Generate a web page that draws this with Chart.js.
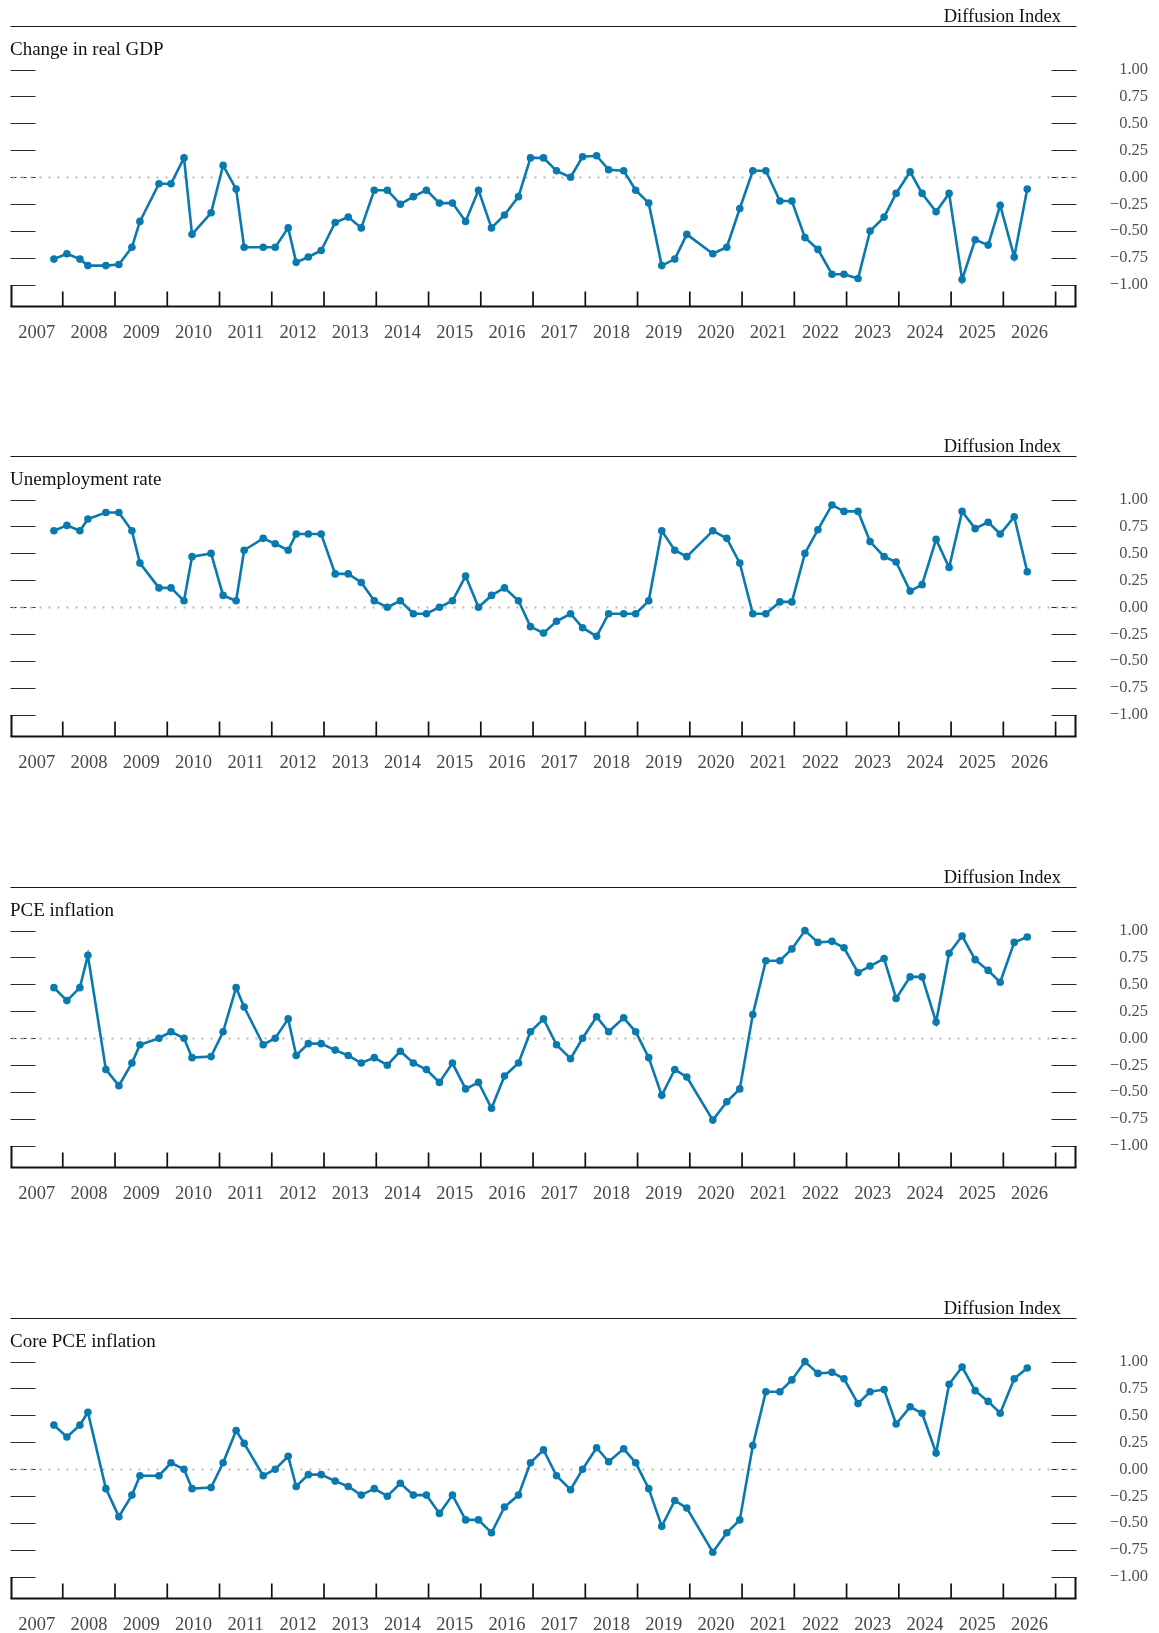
<!DOCTYPE html>
<html lang="en">
<head>
<meta charset="utf-8">
<title>Diffusion indexes</title>
<script src="https://cdn.jsdelivr.net/npm/chart.js@4.4.1/dist/chart.umd.min.js"></script>
<style>
  html, body { margin: 0; padding: 0; background: #fff; overflow: hidden; }
  body { width: 1159px; height: 1633px; position: relative; font-family: "Liberation Serif", "Times New Roman", serif; }
  .panel { position: absolute; left: 0; width: 1159px; height: 431px; }
  .panel canvas { position: absolute; left: 0; top: 0; }
  .unit { position: absolute; right: 98px; top: 6.5px; font-size: 18.5px; line-height: 18.5px; color: #111; white-space: nowrap; }
  .title { position: absolute; left: 10px; top: 38.5px; font-size: 19px; line-height: 19px; color: #111; white-space: nowrap; }
</style>
</head>
<body>

<div class="panel" style="top:0px">
  <canvas id="gdpChart" width="1159" height="431"></canvas>
  <span class="unit">Diffusion Index</span>
  <span class="title">Change in real GDP</span>
</div>
<div class="panel" style="top:430px">
  <canvas id="unempChart" width="1159" height="431"></canvas>
  <span class="unit">Diffusion Index</span>
  <span class="title">Unemployment rate</span>
</div>
<div class="panel" style="top:861px">
  <canvas id="pceChart" width="1159" height="431"></canvas>
  <span class="unit">Diffusion Index</span>
  <span class="title">PCE inflation</span>
</div>
<div class="panel" style="top:1292px">
  <canvas id="corePceChart" width="1159" height="431"></canvas>
  <span class="unit">Diffusion Index</span>
  <span class="title">Core PCE inflation</span>
</div>

<script>
// ===============================================
// Data
// ===============================================
const releaseDates = [
    '2007-10-31',
    '2008-01-30', '2008-04-30', '2008-06-25', '2008-10-29',
    '2009-01-28', '2009-04-29', '2009-06-24', '2009-11-04',
    '2010-01-27', '2010-04-28', '2010-06-23', '2010-11-03',
    '2011-01-26', '2011-04-27', '2011-06-22', '2011-11-02',
    '2012-01-25', '2012-04-25', '2012-06-20', '2012-09-13', '2012-12-12',
    '2013-03-20', '2013-06-19', '2013-09-18', '2013-12-18',
    '2014-03-19', '2014-06-18', '2014-09-17', '2014-12-17',
    '2015-03-18', '2015-06-17', '2015-09-17', '2015-12-16',
    '2016-03-16', '2016-06-15', '2016-09-21', '2016-12-14',
    '2017-03-15', '2017-06-14', '2017-09-20', '2017-12-13',
    '2018-03-21', '2018-06-13', '2018-09-26', '2018-12-19',
    '2019-03-20', '2019-06-19', '2019-09-18', '2019-12-11',
    '2020-06-10', '2020-09-16', '2020-12-16',
    '2021-03-17', '2021-06-16', '2021-09-22', '2021-12-15',
    '2022-03-16', '2022-06-15', '2022-09-21', '2022-12-14',
    '2023-03-22', '2023-06-14', '2023-09-20', '2023-12-13',
    '2024-03-20', '2024-06-12', '2024-09-18', '2024-12-18',
    '2025-03-19', '2025-06-18', '2025-09-17', '2025-12-10',
    '2026-03-18', '2026-06-17'
];

const gdpValues = [
    -0.76, -0.71, -0.76, -0.82, -0.82, -0.81, -0.65, -0.41, -0.06, -0.06,
     0.18, -0.53, -0.33,  0.11, -0.11, -0.65, -0.65, -0.65, -0.47, -0.79,
    -0.74, -0.68, -0.42, -0.37, -0.47, -0.12, -0.12, -0.25, -0.18, -0.12,
    -0.24, -0.24, -0.41, -0.12, -0.47, -0.35, -0.18,  0.18,  0.18,  0.06,
     0.00,  0.19,  0.20,  0.07,  0.06, -0.12, -0.24, -0.82, -0.76, -0.53,
    -0.71, -0.65, -0.29,  0.06,  0.06, -0.22, -0.22, -0.56, -0.67, -0.90,
    -0.90, -0.94, -0.50, -0.37, -0.15,  0.05, -0.15, -0.32, -0.15, -0.95,
    -0.58, -0.63, -0.26, -0.74, -0.11
];

const unemploymentValues = [
     0.71,  0.76,  0.71,  0.82,  0.88,  0.88,  0.71,  0.41,  0.18,  0.18,
     0.06,  0.47,  0.50,  0.11,  0.06,  0.53,  0.64,  0.59,  0.53,  0.68,
     0.68,  0.68,  0.31,  0.31,  0.23,  0.06,  0.00,  0.06, -0.06, -0.06,
     0.00,  0.06,  0.29,  0.00,  0.11,  0.18,  0.06, -0.18, -0.24, -0.13,
    -0.06, -0.19, -0.27, -0.06, -0.06, -0.06,  0.06,  0.71,  0.53,  0.47,
     0.71,  0.64,  0.41, -0.06, -0.06,  0.05,  0.05,  0.50,  0.72,  0.95,
     0.89,  0.89,  0.61,  0.47,  0.42,  0.15,  0.21,  0.63,  0.37,  0.89,
     0.73,  0.79,  0.68,  0.84,  0.33
];

const pceValues = [
     0.47,  0.35,  0.47,  0.77, -0.29, -0.44, -0.23, -0.06,  0.00,  0.06,
     0.00, -0.18, -0.17,  0.06,  0.47,  0.29, -0.06,  0.00,  0.18, -0.16,
    -0.05, -0.05, -0.11, -0.16, -0.23, -0.18, -0.25, -0.12, -0.23, -0.29,
    -0.41, -0.23, -0.47, -0.41, -0.65, -0.35, -0.23,  0.06,  0.18, -0.06,
    -0.19,  0.00,  0.20,  0.06,  0.19,  0.06, -0.18, -0.53, -0.29, -0.36,
    -0.76, -0.59, -0.47,  0.22,  0.72,  0.72,  0.83,  1.00,  0.89,  0.90,
     0.84,  0.61,  0.67,  0.74,  0.37,  0.57,  0.57,  0.15,  0.79,  0.95,
     0.73,  0.63,  0.52,  0.89,  0.94
];

const corePceValues = [
     0.41,  0.30,  0.41,  0.53, -0.18, -0.44, -0.24, -0.06, -0.06,  0.06,
     0.00, -0.18, -0.17,  0.06,  0.36,  0.24, -0.06,  0.00,  0.12, -0.16,
    -0.05, -0.05, -0.11, -0.16, -0.24, -0.18, -0.25, -0.13, -0.24, -0.24,
    -0.41, -0.24, -0.47, -0.47, -0.59, -0.35, -0.24,  0.06,  0.18, -0.06,
    -0.19,  0.00,  0.20,  0.07,  0.19,  0.06, -0.18, -0.53, -0.29, -0.36,
    -0.77, -0.59, -0.47,  0.22,  0.72,  0.72,  0.83,  1.00,  0.89,  0.90,
     0.84,  0.61,  0.72,  0.74,  0.42,  0.58,  0.52,  0.15,  0.79,  0.95,
     0.73,  0.63,  0.52,  0.84,  0.94
];

const yearLabels = [2007, 2008, 2009, 2010, 2011, 2012, 2013, 2014, 2015, 2016,
                    2017, 2018, 2019, 2020, 2021, 2022, 2023, 2024, 2025, 2026];
const yTickValues = [-1, -0.75, -0.5, -0.25, 0, 0.25, 0.5, 0.75, 1];

document.addEventListener('DOMContentLoaded', () => {

    const lineColor = '#0a79ae';
    const serif = 'Liberation Serif';

    // date string -> fractional year (x position on the linear axis)
    function toYearFraction(s) {
        const [y, m, d] = s.split('-').map(Number);
        const start = Date.UTC(y, 0, 1);
        const end = Date.UTC(y + 1, 0, 1);
        return y + (Date.UTC(y, m - 1, d) - start) / (end - start);
    }
    const xValues = releaseDates.map(toYearFraction);

    // ===============================================
    // 1. Frame: top rule, tick stubs, dotted zero line, bottom axis
    // ===============================================
    const panelFrame = {
        id: 'panelFrame',
        beforeDatasetsDraw(chart) {
            const { ctx, chartArea: { left, right, top, bottom }, scales } = chart;
            const yScale = scales.y;
            const xScale = scales.x;
            ctx.save();

            // top rule
            ctx.strokeStyle = '#1a1a1a';
            ctx.lineWidth = 1.2;
            ctx.beginPath();
            ctx.moveTo(left, top);
            ctx.lineTo(right, top);
            ctx.stroke();

            // short tick stubs on both sides
            ctx.strokeStyle = '#2a2a2a';
            ctx.lineWidth = 1.1;
            yTickValues.forEach(v => {
                const py = Math.round(yScale.getPixelForValue(v)) + 0.5;
                ctx.setLineDash(v === 0 ? [6, 4] : []);
                ctx.beginPath();
                ctx.moveTo(left, py);
                ctx.lineTo(left + 25, py);
                ctx.moveTo(right - 25, py);
                ctx.lineTo(right, py);
                ctx.stroke();
            });

            // dotted zero line
            const zero = Math.round(yScale.getPixelForValue(0)) + 0.5;
            ctx.setLineDash([2, 7]);
            ctx.strokeStyle = '#b8b8b8';
            ctx.lineWidth = 2;
            ctx.beginPath();
            ctx.moveTo(left + 2, zero);
            ctx.lineTo(right, zero);
            ctx.stroke();
            ctx.setLineDash([]);

            // bottom axis and year ticks
            ctx.strokeStyle = '#111';
            ctx.lineWidth = 2;
            ctx.beginPath();
            ctx.moveTo(left, bottom);
            ctx.lineTo(right, bottom);
            ctx.stroke();

            ctx.lineWidth = 1.7;
            const tickYears = [...yearLabels.slice(1), 2027];
            tickYears.forEach(yr => {
                const px = xScale.getPixelForValue(yr);
                ctx.beginPath();
                ctx.moveTo(px, bottom - 15);
                ctx.lineTo(px, bottom);
                ctx.stroke();
            });

            // side brackets below -1.00
            const minus1 = yScale.getPixelForValue(-1);
            ctx.lineWidth = 2;
            ctx.beginPath();
            ctx.moveTo(left + 1, minus1);
            ctx.lineTo(left + 1, bottom);
            ctx.moveTo(right - 1, minus1);
            ctx.lineTo(right - 1, bottom);
            ctx.stroke();

            ctx.restore();
        }
    };

    // ===============================================
    // 2. One panel = one line chart
    // ===============================================
    function renderPanel(canvasId, values) {
        const points = values.map((v, i) => ({ x: xValues[i], y: v }));

        new Chart(document.getElementById(canvasId), {
            type: 'line',
            data: {
                datasets: [{
                    data: points,
                    borderColor: lineColor,
                    backgroundColor: lineColor,
                    borderWidth: 2.6,
                    pointRadius: 3.8,
                    pointBackgroundColor: lineColor,
                    pointBorderWidth: 0,
                    tension: 0,
                    xAxisID: 'x',
                    yAxisID: 'y'
                }]
            },
            options: {
                responsive: false,
                animation: false,
                devicePixelRatio: 1,
                layout: { padding: { top: 26.5, left: 10.5, right: 11, bottom: 84.5 } },
                plugins: {
                    legend: { display: false },
                    tooltip: { enabled: false }
                },
                scales: {
                    x: {
                        type: 'linear',
                        display: false,
                        min: 2007,
                        max: 2027.4
                    },
                    x2: {
                        type: 'linear',
                        position: 'bottom',
                        min: 2007,
                        max: 2027.4,
                        grid: { display: false, drawTicks: false },
                        border: { display: false },
                        afterBuildTicks: scale => {
                            scale.ticks = yearLabels.map(yr => ({ value: yr + 0.5 }));
                        },
                        afterFit: scale => {
                            scale.height = 40;
                            scale.paddingLeft = 0;
                            scale.paddingRight = 0;
                        },
                        ticks: {
                            autoSkip: false,
                            maxRotation: 0,
                            padding: 16,
                            color: '#474747',
                            font: { family: serif, size: 18.5 },
                            callback: v => String(Math.floor(v))
                        }
                    },
                    y: {
                        position: 'right',
                        min: -1.2,
                        max: 1.4,
                        grid: { display: false, drawTicks: false },
                        border: { display: false },
                        afterBuildTicks: scale => {
                            scale.ticks = yTickValues.map(v => ({ value: v }));
                        },
                        afterFit: scale => {
                            // labels are right-aligned on the axis' right edge
                            scale.width = 71.5;
                            scale.paddingTop = 0;
                            scale.paddingBottom = 0;
                        },
                        ticks: {
                            padding: 10,
                            crossAlign: 'far',
                            color: '#4f4f4f',
                            font: { family: serif, size: 16.5 },
                            callback: v => (v < 0 ? '\u2212' : '') + Math.abs(v).toFixed(2)
                        }
                    }
                }
            },
            plugins: [panelFrame]
        });
    }

    renderPanel('gdpChart', gdpValues);
    renderPanel('unempChart', unemploymentValues);
    renderPanel('pceChart', pceValues);
    renderPanel('corePceChart', corePceValues);
});
</script>
</body>
</html>
